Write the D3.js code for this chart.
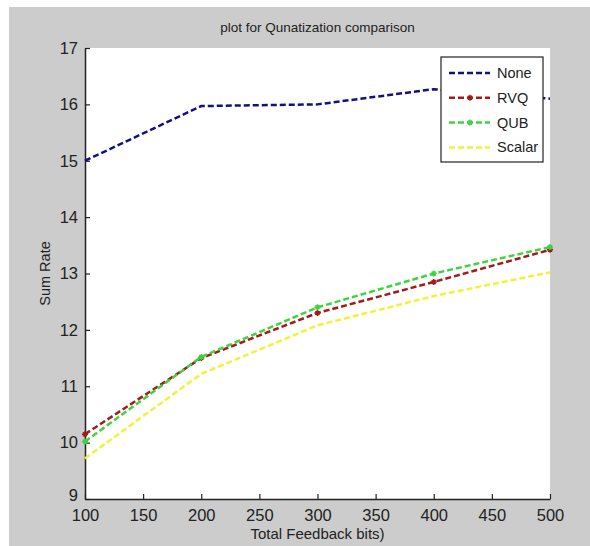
<!DOCTYPE html>
<html>
<head>
<meta charset="utf-8">
<script src="https://cdn.jsdelivr.net/npm/d3@7"></script>
<style>
  body { margin: 0; background: #fff; }
  text { font-family: "Liberation Sans", Arial, sans-serif; fill: #222; }
</style>
</head>
<body>
<svg id="chart" width="590" height="546"></svg>
<script>
// data
var bits = [100, 200, 300, 400, 500];
var noneRate = [15.0, 15.97, 16.0, 16.27, 16.1];
var rvqRate = [10.15, 11.5, 12.3, 12.85, 13.42];
var qubRate = [10.02, 11.52, 12.4, 13.0, 13.47];
var scalarRate = [9.72, 11.22, 12.08, 12.6, 13.02];
var seriesNames = ["None", "RVQ", "QUB", "Scalar"];
var seriesColors = ["#12127e", "#a51a1a", "#3fd43f", "#f2f23a"];
var xTicks = [100, 150, 200, 250, 300, 350, 400, 450, 500];
var yTicks = [9, 10, 11, 12, 13, 14, 15, 16, 17];

var svg = d3.select("#chart");
var L = 85, R = 550, T = 48, B = 499;

// grey figure background with white margin
svg.append("rect").attr("x", 9).attr("y", 7).attr("width", 581).attr("height", 539).attr("fill", "#cccccc");
svg.append("rect").attr("x", L).attr("y", T).attr("width", R - L).attr("height", B - T).attr("fill", "#fff");

var x = d3.scaleLinear().domain([100, 500]).range([L, R]);
var y = d3.scaleLinear().domain([9, 17]).range([B, T]);

var xAxis = svg.append("g").attr("transform", "translate(0," + B + ")")
  .call(d3.axisBottom(x).tickValues(xTicks).tickSizeInner(-5).tickSizeOuter(0).tickPadding(12));
var yAxis = svg.append("g").attr("transform", "translate(" + L + ",0)")
  .call(d3.axisLeft(y).tickValues(yTicks).tickSizeInner(-5).tickSizeOuter(0).tickPadding(7));
[xAxis, yAxis].forEach(function(a){
  a.select(".domain").attr("stroke", "#222").attr("stroke-width", 1.5);
  a.selectAll(".tick line").attr("stroke", "#222").attr("stroke-width", 1.2);
  a.selectAll(".tick text").attr("font-size", 16.5).attr("fill", "#222")
   .attr("font-family", "'Liberation Sans', Arial, sans-serif");
});
xAxis.selectAll(".tick text").attr("dy", "0.6em");
// lift the bottom y label a touch so it clears "100"
yAxis.selectAll(".tick text").filter(function(d){ return d == 9; }).attr("dy", "0.1em");

svg.append("text").attr("x", (L + R) / 2).attr("y", 32).attr("text-anchor", "middle")
  .attr("font-size", 13.5).text("plot for Qunatization comparison");
svg.append("text").attr("x", (L + R) / 2).attr("y", 539).attr("text-anchor", "middle")
  .attr("font-size", 15).text("Total Feedback bits)");
svg.append("text").attr("transform", "translate(50," + ((T + B) / 2) + ") rotate(-90)")
  .attr("text-anchor", "middle").attr("font-size", 14.5).text("Sum Rate");

var allSeries = [noneRate, rvqRate, qubRate, scalarRate];
var line = d3.line().x(function(d, i){ return x(bits[i]); }).y(function(d){ return y(d); });

// draw order so green sits over red, yellow underneath
[3, 1, 2, 0].forEach(function(k){
  svg.append("path").datum(allSeries[k]).attr("d", line)
    .attr("fill", "none").attr("stroke", seriesColors[k]).attr("stroke-width", 2.5)
    .attr("stroke-dasharray", "6,3");
  if (k == 1 || k == 2) {
    svg.selectAll(".m" + k).data(allSeries[k]).enter().append("path")
      .attr("class", "m" + k)
      .attr("transform", function(d, i){ return "translate(" + x(bits[i]) + "," + y(d) + ")"; })
      .attr("d", "M-3,0H3M0,-3V3M-2,-2L2,2M-2,2L2,-2")
      .attr("stroke", seriesColors[k]).attr("stroke-width", 1.5);
  }
});

// legend
var lg = svg.append("g").attr("transform", "translate(441,57)");
lg.append("rect").attr("width", 102).attr("height", 105).attr("fill", "#fff")
  .attr("stroke", "#222").attr("stroke-width", 1.2);
seriesNames.forEach(function(name, i){
  var yy = 16 + i * 24.8;
  lg.append("line").attr("x1", 8).attr("x2", 49).attr("y1", yy).attr("y2", yy)
    .attr("stroke", seriesColors[i]).attr("stroke-width", 2.5).attr("stroke-dasharray", "6,3");
  if (i == 1 || i == 2) {
    lg.append("path").attr("transform", "translate(29," + yy + ")")
      .attr("d", "M-3,0H3M0,-3V3M-2,-2L2,2M-2,2L2,-2")
      .attr("stroke", seriesColors[i]).attr("stroke-width", 1.5);
  }
  lg.append("text").attr("x", 56).attr("y", yy + 5).attr("font-size", 14.5).text(name);
});
</script>
</body>
</html>
